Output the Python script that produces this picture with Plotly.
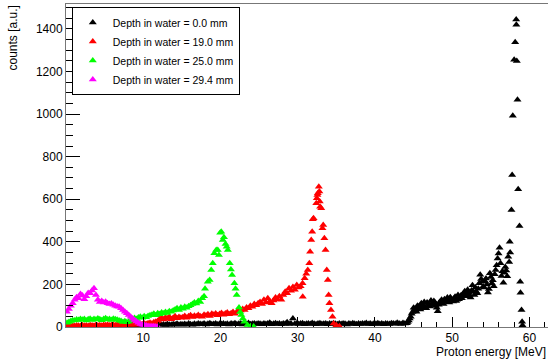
import numpy as np
import plotly.graph_objects as go

# ---------------- data ----------------
BIN = 0.25  # MeV, width of the continuum bins

# Depth 0.0 mm (black) continuum 0-44 MeV, bins starting at 0.125 MeV
black_cont = [
    0, 1, 0, 2, 1, 0, 1, 2, 1, 0, 2, 1, 3, 1, 2, 0, 1, 2, 3, 1,
    2, 3, 1, 4, 2, 3, 5, 2, 4, 3, 5, 4, 6, 3, 5, 7, 4, 6, 5, 8,
    6, 9, 7, 10, 8, 12, 9, 11, 13, 10, 12, 9, 14, 11, 10, 13, 12, 15, 11, 13,
    12, 14, 10, 16, 13, 11, 15, 12, 17, 14, 13, 16, 12, 15, 18, 13, 14, 16, 12, 15,
    14, 17, 13, 15, 12, 16, 14, 18, 13, 15, 17, 12, 16, 14, 19, 13, 15, 17, 14, 16,
    15, 13, 17, 14, 16, 20, 13, 15, 18, 14, 16, 13, 17, 15, 22, 14, 16, 40, 15, 17,
    14, 16, 18, 13, 15, 17, 14, 19, 15, 13, 16, 18, 14, 15, 17, 13, 16, 14, 18, 15,
    13, 16, 14, 17, 15, 12, 16, 14, 18, 15, 13, 17, 14, 16, 15, 19, 14, 16, 13, 17,
    15, 18, 14, 16, 13, 17, 15, 14, 18, 16, 15, 20, 17, 14, 19, 16,
]
# Depth 0.0 mm (black) rising tail 44-57.5 MeV, finer bins
TAIL_START, TAIL_BIN = 44.125, 0.125
black_tail = [
    18, 24, 30, 40, 48, 62, 70, 90, 85, 78, 72, 100, 95, 88, 82, 112,
    105, 96, 118, 92, 88, 115, 108, 102, 96, 125, 110, 104, 122, 115, 100, 90,
    74, 105, 118, 112, 128, 120, 108, 130, 122, 118, 138, 128, 115, 140, 132, 125,
    120, 135, 142, 122, 128, 150, 130, 140, 148, 135, 152, 160, 168, 155, 145, 175,
    162, 150, 138, 172, 196, 165, 150, 185, 165, 158, 180, 205, 245, 225, 212, 190,
    185, 215, 228, 200, 162, 178, 252, 235, 205, 220, 192, 248, 268, 290, 322, 345,
    372, 300, 240, 262, 208, 255, 282, 265, 238, 330, 305, 350,
]
# Depth 0.0 mm (black) Bragg-peak region
black_peak_e = [57.45, 57.67, 57.76, 57.84, 58.02, 58.15, 58.28, 58.30, 58.36,
                58.45, 58.54, 58.71, 58.80, 58.84, 58.97, 59.05, 59.10]
black_peak_c = [401, 550, 714, 992, 1255, 1338, 1445, 1420, 1250,
                1067, 647, 475, 213, 161, 80, 25, 8]

# Depth 19.0 mm (red)
red_cont = [
    3, 5, 4, 6, 5, 7, 6, 5, 8, 6, 7, 5, 8, 7, 6, 9, 7, 8, 6, 9,
    8, 10, 7, 9, 11, 8, 10, 9, 12, 10, 8, 11, 13, 10, 12, 11, 14, 12, 15, 13,
    16, 14, 18, 20, 17, 22, 25, 28,
    38, 42, 35, 45, 40, 48, 36, 44, 50, 41, 47, 43,
    46, 52, 44, 50, 55, 47, 53, 49, 56, 51, 48, 58,
    54, 60, 52, 62, 57, 64, 55, 61, 66, 58, 63, 68, 60, 65, 70, 62, 72, 75,
    78, 85, 80, 92, 88, 100, 95, 108, 102, 112,
    118, 108, 128, 115, 135, 120, 112, 125, 138, 130, 145, 128,
    150, 165, 158, 182, 170, 188, 175, 197, 185, 192, 205,
]
red_peak_e = [30.65, 30.9, 31.1, 31.3, 31.5, 31.6, 31.75, 31.87, 31.95, 32.05,
              32.4, 32.47, 32.55, 32.6, 32.73, 32.8, 32.85, 32.9, 33.04, 33.2,
              33.3, 33.45, 33.6, 33.76, 33.9, 34.0, 34.1, 34.3, 34.5, 34.65,
              35.0, 35.4]
red_peak_c = [142, 229, 250, 268, 299, 354, 409, 448, 506, 511,
              581, 605, 620, 628, 659, 636, 590, 565, 558, 464,
              479, 417, 362, 268, 221, 150, 111, 80, 48, 17,
              8, 3]

# Depth 25.0 mm (green)
green_cont = [
    20, 24, 28, 32, 30, 35, 33, 38,
    34, 37, 31, 36, 39, 33, 38, 35, 40, 36, 32, 38, 41, 35, 37, 33, 39, 36, 34, 31,
    28, 24, 27, 22, 26, 30,
    36, 42, 38, 45, 48, 43, 50, 46, 52, 55,
    58, 62, 55, 65, 60, 68, 63, 70, 66, 74, 72, 78,
    82, 88, 80, 92, 86, 95, 90, 98, 102,
    108, 115, 110, 122, 118, 135, 145,
]
green_peak_e = [18.0, 18.36, 18.6, 18.8, 19.0, 19.2, 19.45, 19.65, 19.8, 19.96,
                20.1, 20.3, 20.45, 20.65, 20.8, 20.95, 21.2, 21.35, 21.5, 21.8,
                21.95, 22.1, 22.4, 22.55, 22.7, 22.9, 23.1, 23.5, 23.9, 24.3]
green_peak_c = [180, 213, 221, 268, 300, 346, 362, 362, 338, 443,
                448, 409, 422, 390, 377, 362, 299, 270, 244, 205,
                180, 150, 92, 70, 56, 40, 25, 9, 4, 2]

# Depth 29.4 mm (magenta)
magenta_cont = [
    72, 85, 100, 112, 128, 140, 135, 155, 148, 130, 145, 160,
    158, 172, 182, 150, 128, 118, 122, 115, 119, 112, 108, 110,
    104, 100, 96, 95, 88, 80, 72, 65, 56, 48, 40, 33,
    26, 20, 14, 11, 9, 7, 5, 4, 3, 3, 2, 1,
]

series_names = ["Depth in water = 0.0 mm", "Depth in water = 19.0 mm",
                "Depth in water = 25.0 mm", "Depth in water = 29.4 mm"]
series_colors = ["#000000", "#ff0000", "#00ff00", "#ff00ff"]

x_ticks = [10, 20, 30, 40, 50, 60]
y_ticks = [0, 200, 400, 600, 800, 1000, 1200, 1400]


def bins(values, start=BIN / 2, step=BIN):
    return list(start + step * np.arange(len(values)))


series = [
    (bins(black_cont) + bins(black_tail, TAIL_START, TAIL_BIN) + black_peak_e,
     black_cont + black_tail + black_peak_c),
    (bins(red_cont) + red_peak_e, red_cont + red_peak_c),
    (bins(green_cont) + green_peak_e, green_cont + green_peak_c),
    (bins(magenta_cont), magenta_cont),
]

# ---------------- figure ----------------
FONT = "Liberation Sans, Arial, Helvetica, sans-serif"
fig = go.Figure()
for (xs, ys), name, col in zip(series, series_names, series_colors):
    fig.add_trace(go.Scatter(
        x=xs, y=ys, mode="markers", name=name,
        marker=dict(symbol="triangle-up", size=7, color=col, line=dict(width=0)),
    ))

ymax = max(black_peak_c) * 1.05

fig.update_layout(
    width=548, height=360,
    margin=dict(l=66, r=0, t=4, b=33),
    paper_bgcolor="white", plot_bgcolor="white",
    font=dict(family=FONT, size=12, color="black"),
    showlegend=True,
    legend=dict(
        x=0.012, y=0.991, xanchor="left", yanchor="top",
        bordercolor="black", borderwidth=1, bgcolor="white",
        font=dict(size=10.5, family=FONT),
        itemsizing="trace", tracegroupgap=0, entrywidth=147,
    ),
    xaxis=dict(
        range=[0, 62.4], tickvals=x_ticks, ticks="inside", ticklen=10,
        tickcolor="black", tickwidth=1,
        minor=dict(dtick=2, ticks="inside", ticklen=5, tickcolor="black"),
        showgrid=False, zeroline=False, showline=True, linecolor="#777",
        linewidth=1, mirror=True, tickfont=dict(size=12),
    ),
    yaxis=dict(
        range=[0, ymax], tickvals=y_ticks, ticks="inside", ticklen=14,
        tickcolor="black", tickwidth=1,
        minor=dict(dtick=50, ticks="inside", ticklen=7, tickcolor="black"),
        showgrid=False, zeroline=False, showline=True, linecolor="#777",
        linewidth=1, mirror=True, tickfont=dict(size=12),
    ),
    annotations=[
        dict(text="Proton energy [MeV]", xref="paper", yref="paper",
             x=1, y=-0.077, xanchor="right", yanchor="middle",
             showarrow=False, font=dict(size=12)),
        dict(text="counts [a.u.]", xref="paper", yref="paper",
             x=-0.112, y=1.0, xanchor="center", yanchor="top", textangle=-90,
             showarrow=False, font=dict(size=12)),
    ],
)

fig.write_html("out.html",
               config={"displayModeBar": False},
               post_script="document.body.style.margin='0';"
                           "document.body.style.overflow='hidden';")
